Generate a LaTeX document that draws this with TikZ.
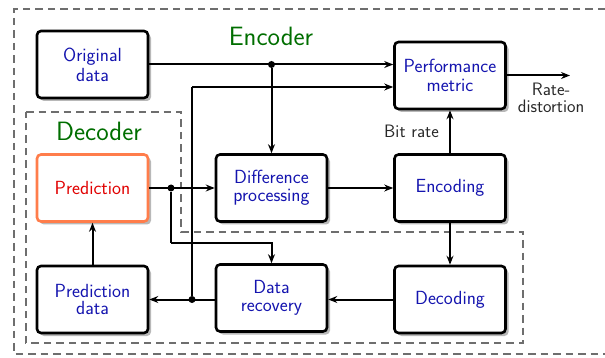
\documentclass[tikz,border=0pt]{standalone}
\usetikzlibrary{arrows.meta,shadows,calc}
\definecolor{txtblue}{RGB}{20,20,175}
\definecolor{grn}{RGB}{0,110,0}
\definecolor{predred}{RGB}{225,0,0}
\definecolor{predorange}{RGB}{255,125,75}
\definecolor{dashgray}{RGB}{110,110,110}
\definecolor{lbl}{RGB}{40,40,40}
\tikzset{
  box/.style={rectangle, rounded corners=4pt, draw=black, line width=2.6pt,
    minimum width=111pt, minimum height=67pt, fill=white, inner sep=2pt,
    align=center, text=txtblue,
    font=\sffamily\fontsize{19}{19}\selectfont,
    drop shadow={shadow xshift=3pt, shadow yshift=-3pt, fill=black!28, opacity=1}},
  predbox/.style={box, draw=predorange, text=predred},
  conn/.style={line width=2pt, -{Stealth[length=9pt,width=7pt,inset=3pt]}},
  plain/.style={line width=2pt},
  dot/.style={circle, fill=black, inner sep=0pt, minimum size=7pt},
  region/.style={draw=dashgray, line width=1.4pt, dash pattern=on 7.5pt off 5pt},
  title/.style={text=grn, font=\sffamily\fontsize{26.5}{28}\selectfont},
  lab/.style={text=lbl, font=\sffamily\fontsize{18}{17}\selectfont, align=center}
}
\begin{document}
\begin{tikzpicture}[x=1pt,y=-1pt]
\useasboundingbox (0,0) rectangle (605,358);
% regions
\draw[region] (605,9) -- (14,9) -- (14,354) -- (605,354);
\draw[region] (26,112) -- (181,112) -- (181,232) -- (523,232) -- (523,343) -- (26,343) -- cycle;
\node[title] (enclab) at (271,36) {Encoder};
\node[title] (declab) at (99,131) {Decoder};
% boxes
\node[box, font=\sffamily\fontsize{19}{20}\selectfont] (orig) at (92.5,64.5) {Original\\data};
\node[box] (perf) at (450,75.5) {Performance\\metric};
\node[predbox] (pred) at (92.5,188) {Prediction};
\node[box, font=\sffamily\fontsize{19}{17.5}\selectfont] (diff) at (271.5,188) {Difference\\processing};
\node[box] (enc) at (450,188) {Encoding};
\node[box, font=\sffamily\fontsize{19}{17.5}\selectfont] (pdata) at (92.5,299.5) {Prediction\\data};
\node[box, font=\sffamily\fontsize{19}{17.5}\selectfont] (drec) at (271.5,298) {Data\\recovery};
\node[box] (dec) at (450,299.5) {Decoding};
% junctions
\node[dot] (j1) at (orig.east -| diff.north) {};
\node[dot] (j2) at (192,299.5) {};
\node[dot] (j3) at (171,188) {};
\coordinate (k2) at (192,87);
\coordinate (k3) at (171,243);
\coordinate (out) at (570,75.5);
% connectors
\draw[conn] (orig.east) -- (orig.east -| perf.west);
\draw[conn] (j1) -- (diff.north);
\draw[plain] (j2) -- (k2);
\draw[conn] (k2) -- (k2 -| perf.west);
\draw[conn] (pred.east) -- (diff.west);
\draw[plain] (j3) -- (k3);
\draw[conn] (k3) -| (drec.north);
\draw[conn] (diff.east) -- (enc.west);
\draw[conn] (enc.north) -- (perf.south);
\draw[conn] (enc.south) -- (dec.north);
\draw[conn] (dec.west) -- (dec.west -| drec.east);
\draw[conn] (j2 -| drec.west) -- (pdata.east);
\draw[conn] (pdata.north) -- (pred.south);
\draw[conn] (perf.east) -- (out);
% labels
\node[lab] (bitrate) at (411.5,131) {Bit rate};
\node[lab] (rd) at (551,98) {Rate-\\distortion};
\end{tikzpicture}
\end{document}
